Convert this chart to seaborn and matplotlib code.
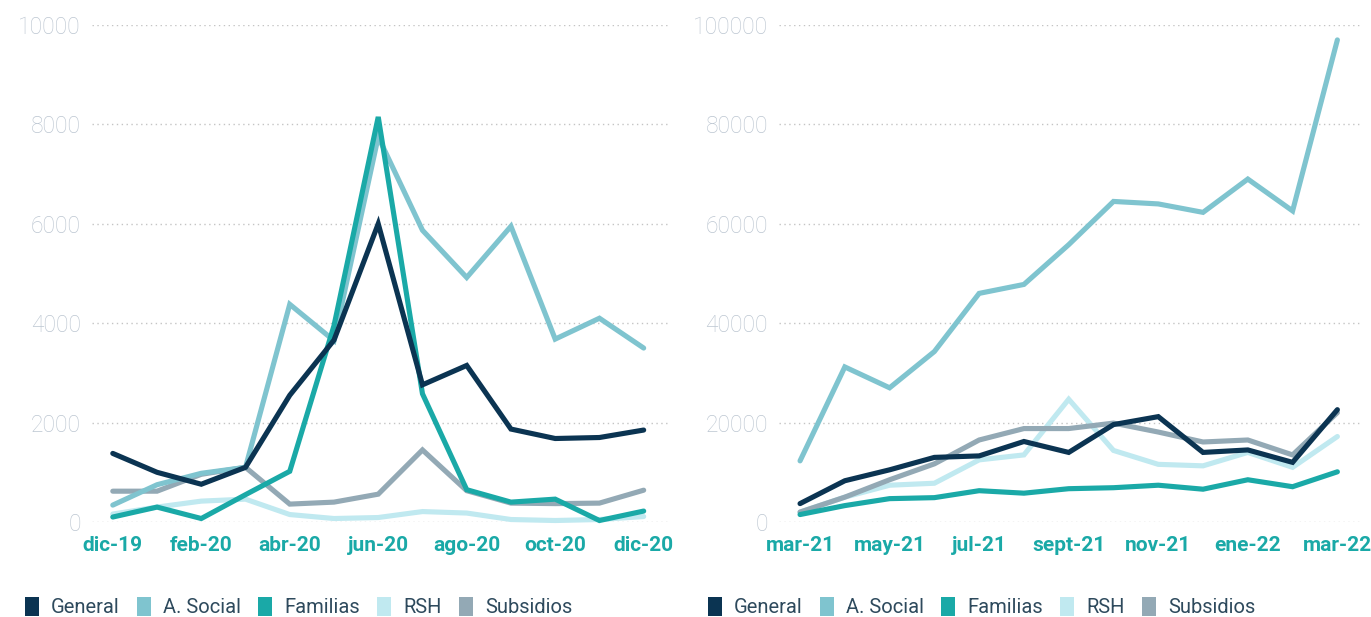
import matplotlib
matplotlib.use("Agg")
import matplotlib.pyplot as plt
import seaborn as sns
import pandas as pd
from matplotlib.patches import Patch

sns.set_theme(style="white")
plt.rcParams['font.family'] = ['Roboto', 'DejaVu Sans']

series_names = ["General", "A. Social", "Familias", "RSH", "Subsidios"]
colors = {"General": "#0b3452", "A. Social": "#7fc4cf", "Familias": "#1aa9a7",
          "RSH": "#c0e9f0", "Subsidios": "#93a9b5"}

months_left = ["dic-19", "ene-20", "feb-20", "mar-20", "abr-20", "may-20", "jun-20",
               "jul-20", "ago-20", "sep-20", "oct-20", "nov-20", "dic-20"]
left_general = [1380, 1000, 760, 1100, 2550, 3660, 6000, 2760, 3150, 1870, 1680, 1700, 1850]
left_asocial = [340, 750, 980, 1100, 4380, 3650, 7750, 5870, 4920, 5950, 3680, 4100, 3500]
left_familias = [100, 300, 70, 550, 1020, 3950, 8150, 2580, 650, 400, 460, 30, 220]
left_rsh = [160, 300, 420, 460, 150, 70, 90, 210, 180, 50, 30, 50, 110]
left_subsidios = [620, 620, 960, 1100, 360, 400, 560, 1450, 630, 380, 370, 380, 640]

months_right = ["mar-21", "abr-21", "may-21", "jun-21", "jul-21", "ago-21", "sept-21",
                "oct-21", "nov-21", "dic-21", "ene-22", "feb-22", "mar-22"]
right_general = [3700, 8300, 10500, 13000, 13300, 16200, 14000, 19600, 21200, 14000, 14500, 12000, 22600]
right_asocial = [12300, 31200, 27000, 34300, 46000, 47800, 55800, 64500, 64000, 62300, 69000, 62600, 97000]
right_familias = [1500, 3300, 4700, 4900, 6300, 5800, 6700, 6900, 7400, 6600, 8500, 7100, 10100]
right_rsh = [2000, 5000, 7400, 7800, 12500, 13500, 24700, 14400, 11600, 11300, 14000, 11000, 17200]
right_subsidios = [2000, 5000, 8500, 11700, 16500, 18800, 18800, 19900, 18100, 16100, 16500, 13500, 22000]


def long_df(months, data):
    rows = []
    for name, vals in data.items():
        for i, (m, v) in enumerate(zip(months, vals)):
            rows.append({"idx": i, "mes": m, "serie": name, "valor": v})
    return pd.DataFrame(rows)


df_left = long_df(months_left, {"General": left_general, "A. Social": left_asocial,
                                "Familias": left_familias, "RSH": left_rsh,
                                "Subsidios": left_subsidios})
df_right = long_df(months_right, {"General": right_general, "A. Social": right_asocial,
                                  "Familias": right_familias, "RSH": right_rsh,
                                  "Subsidios": right_subsidios})

fig = plt.figure(figsize=(13.71, 6.17), dpi=100)
W, H = 1371, 617
ax1 = fig.add_axes([92 / W, 1 - 522 / H, (668 - 92) / W, (522 - 25) / H])
ax2 = fig.add_axes([779 / W, 1 - 522 / H, (1362 - 779) / W, (522 - 25) / H])

draw_order = ["RSH", "Subsidios", "A. Social", "Familias", "General"]


def draw(ax, df, months, ymax, yticks):
    for z, name in enumerate(draw_order):
        sub = df[df["serie"] == name]
        sns.lineplot(data=sub, x="idx", y="valor", ax=ax, color=colors[name],
                     linewidth=3.7, legend=False, zorder=3 + z, clip_on=False,
                     solid_joinstyle="miter")
    ax.set_xlim(-0.47, 12.55)
    ax.set_ylim(0, ymax)
    ax.set_yticks(yticks)
    ax.set_yticklabels([str(t) for t in yticks])
    ax.set_xticks(range(0, 13, 2))
    ax.set_xticklabels([months[i] for i in range(0, 13, 2)])
    ax.set_xlabel("")
    ax.set_ylabel("")
    for s in ax.spines.values():
        s.set_visible(False)
    ax.grid(axis="y", linestyle=(0, (1, 2.5)), color="#c4c4c4", linewidth=1.0, zorder=0)
    ax.grid(axis="x", visible=False)
    ax.tick_params(axis="y", length=0, pad=8, labelsize=16.5, labelcolor="#bcc6d1")
    ax.tick_params(axis="x", length=0, pad=10, labelsize=15, labelcolor="#1aa9a7")
    for lbl in ax.get_yticklabels():
        lbl.set_fontweight("light")
    for lbl in ax.get_xticklabels():
        lbl.set_fontweight("bold")


draw(ax1, df_left, months_left, 10000, [0, 2000, 4000, 6000, 8000, 10000])
draw(ax2, df_right, months_right, 100000, [0, 20000, 40000, 60000, 80000, 100000])

handles = [Patch(facecolor=colors[n], edgecolor="none", label=n) for n in series_names]
for x0 in (25, 708):
    fig.legend(handles=handles, loc="center left", bbox_to_anchor=(x0 / W, 1 - 607 / H),
               ncol=5, frameon=False, fontsize=14.5, handlelength=0.7, handleheight=1.1,
               handletextpad=0.6, columnspacing=0.85, borderaxespad=0, borderpad=0,
               labelcolor="#2e4a5d")

fig.savefig("out.png", dpi=100)
